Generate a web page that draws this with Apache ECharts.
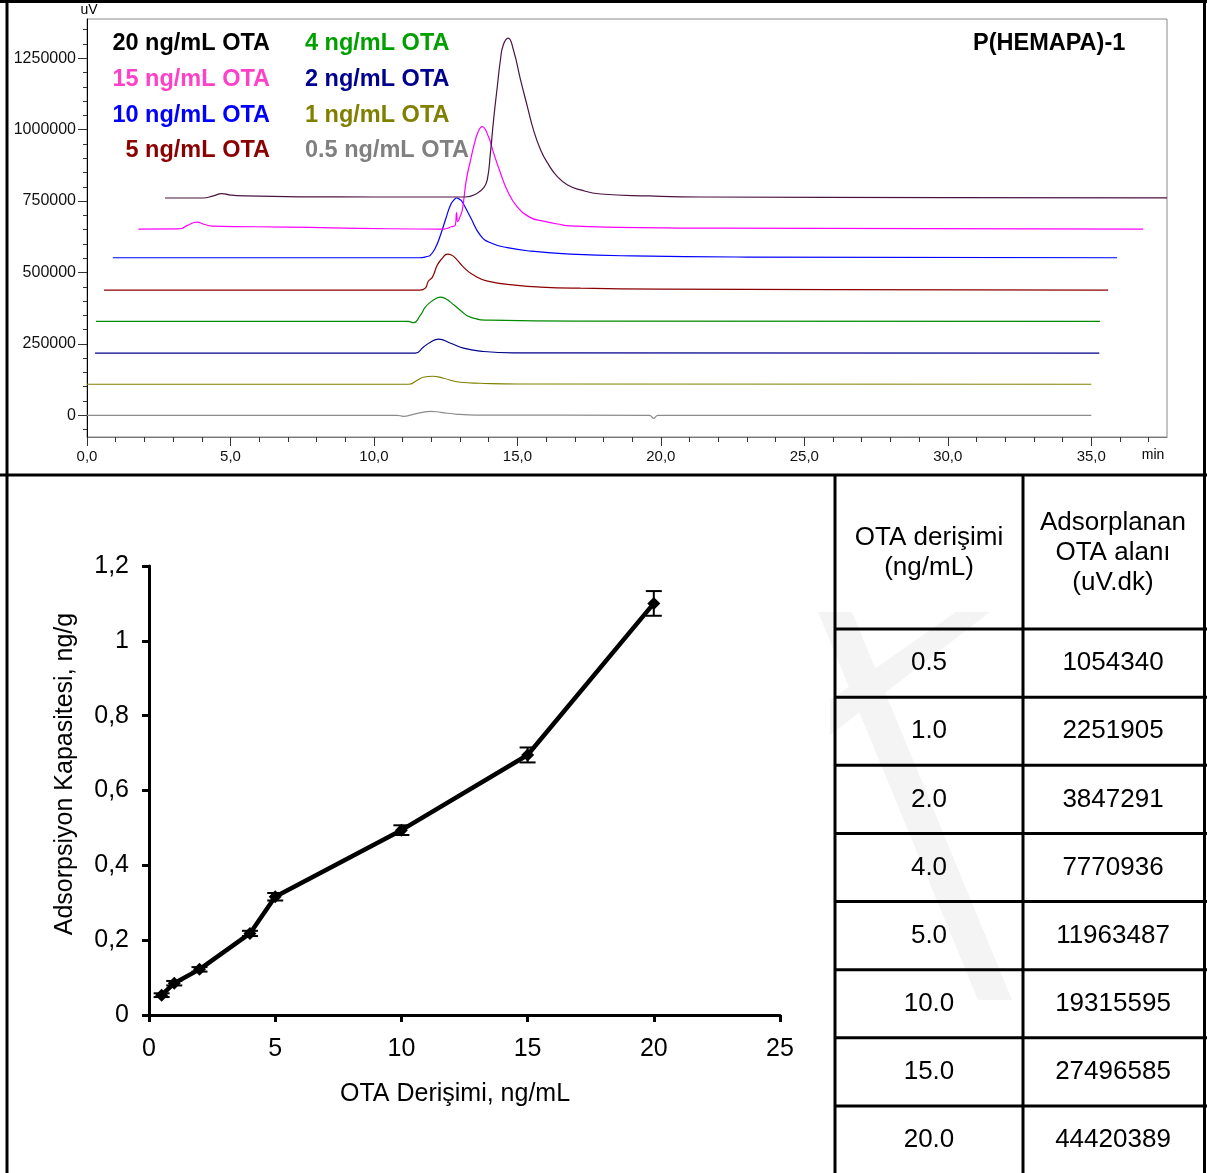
<!DOCTYPE html>
<html><head><meta charset="utf-8">
<script src="https://cdn.jsdelivr.net/npm/echarts@6/dist/echarts.min.js"></script>
<style>html,body{margin:0;padding:0;background:#fff}#c{width:1207px;height:1173px}</style>
</head><body><div id="c"></div><script>
// ---------- Chromatogram traces [time(min), signal(uV)] as displayed (stacked/shifted) ----------
const t20 = [[2.72,760800],[4.05,760800],[4.40,768000],[4.70,776000],[4.95,772000],[5.22,769000],[7.43,765000],[10.0,764300],[13.19,764300],[13.60,777300],[13.82,795900],[13.95,823900],[14.06,918600],[14.17,1034300],[14.30,1151000],[14.41,1244600],[14.51,1297200],[14.68,1320700],[14.86,1279700],[15.11,1174500],[15.35,1079800],[15.56,999200],[15.81,929100],[16.05,883500],[16.40,834400],[16.75,806400],[17.20,788900],[17.90,774800],[19.60,768000],[21.40,764300],[30.0,762000],[37.64,761000]];
const t15 = [[1.79,652100],[3.24,653000],[3.50,665000],[3.83,676000],[4.10,668000],[4.35,662600],[7.0,659000],[10.5,653000],[12.42,652100],[12.70,660000],[12.84,667000],[12.88,710000],[12.92,678000],[13.00,695000],[13.08,718700],[13.22,823900],[13.36,890000],[13.50,950000],[13.63,992000],[13.77,1010800],[13.99,975700],[14.17,918600],[14.41,848500],[14.64,788900],[14.99,730300],[15.46,692000],[15.90,680000],[16.40,669600],[16.85,663000],[18.5,658000],[22.0,655000],[36.81,652100]];
const t10 = [[0.90,551500],[11.60,551500],[11.85,556000],[11.97,561000],[12.14,585500],[12.32,631100],[12.49,683700],[12.67,736300],[12.80,755000],[12.88,760800],[13.00,755000],[13.08,746800],[13.36,694200],[13.71,630000],[14.06,604000],[14.65,587000],[15.46,575000],[16.85,564500],[19.0,558000],[23.0,554000],[35.90,551500]];
const t5 = [[0.59,438300],[11.60,438300],[11.79,445300],[11.90,470000],[12.04,483800],[12.21,525900],[12.39,550400],[12.56,564500],[12.70,561000],[12.84,550400],[13.12,518900],[13.47,490800],[13.96,469800],[15.0,455000],[15.8,449000],[17.2,445000],[20.0,442000],[26.0,440000],[35.59,438300]];
const t4 = [[0.31,329000],[11.20,329000],[11.37,324000],[11.62,350600],[11.79,378600],[11.97,396200],[12.15,408000],[12.32,413700],[12.50,408000],[12.67,396200],[13.01,368100],[13.36,343600],[14.06,333100],[17.2,329500],[35.31,329000]];
const t2 = [[0.28,217400],[11.44,217400],[11.72,238400],[11.97,255900],[12.25,266500],[12.67,252400],[13.12,234900],[13.71,224400],[14.86,218500],[35.28,217400]];
const t1 = [[0,108700],[11.20,108700],[11.51,122700],[11.72,133200],[12.04,136700],[12.42,129700],[13.01,115700],[13.71,112200],[15.0,109500],[35.0,108700]];
const t05 = [[0,0],[10.8,0],[11.03,-3500],[11.37,3500],[11.69,10500],[11.97,14000],[12.32,10500],[12.91,3500],[13.61,500],[19.6,0],[19.75,-10500],[19.9,0],[35.0,0]];

const chromNames = ['20 ng/mL OTA','15 ng/mL OTA','10 ng/mL OTA','5 ng/mL OTA','4 ng/mL OTA','2 ng/mL OTA','1 ng/mL OTA','0.5 ng/mL OTA'];
const chromX_major = [0,5,10,15,20,25,30,35];
const chromY_major = [0,250000,500000,750000,1000000,1250000];
const chromTitle = 'P(HEMAPA)-1';

// ---------- Calibration plot ----------
const concX = [0.5,1,2,4,5,10,15,20];
const capacity = [0.053,0.085,0.122,0.218,0.316,0.494,0.695,1.10];
const capErr = [0.005,0.006,0.006,0.007,0.010,0.013,0.020,0.033];
const xName = 'OTA Derişimi, ng/mL';
const yName = 'Adsorpsiyon Kapasitesi, ng/g';

// ---------- Table ----------
const tableHead1 = ['OTA derişimi','(ng/mL)'];
const tableHead2 = ['Adsorplanan','OTA alanı','(uV.dk)'];
const tableConc = ['0.5','1.0','2.0','4.0','5.0','10.0','15.0','20.0'];
const tableArea = ['1054340','2251905','3847291','7770936','11963487','19315595','27496585','44420389'];

// ---------- styles ----------
const FONT = '"Liberation Sans", Arial, sans-serif';
const lineColors = ['#4a1442','#ff00ff','#0000ff','#8b0000','#008a00','#00008b','#808000','#8c8c8c'];
const textColors = ['#000000','#ff40c8','#0000ff','#8b0000','#00a000','#000090','#808000','#808080'];
const traces = [t20,t15,t10,t5,t4,t2,t1,t05];

const X_MAX = 37.64, Y_MIN = -76000, Y_MAX = 1387400;
const minorX = []; for (let v = 0; v <= 37; v++) minorX.push(v);
const minorY = []; for (let v = -50000; v <= 1350000; v += 50000) minorY.push(v);

const chart = echarts.init(document.getElementById('c'), null, {renderer:'canvas'});

const series = traces.map((d, i) => ({
  type:'line', name: chromNames[i], xAxisIndex:0, yAxisIndex:0, data:d,
  showSymbol:false, smooth:0.5, clip:false,
  lineStyle:{color:lineColors[i], width:1.2}, z: 3 + (8 - i)
}));

series.push({
  type:'custom', name:'err', xAxisIndex:2, yAxisIndex:2,
  data: concX.map((x,i)=>[x, capacity[i]-capErr[i], capacity[i]+capErr[i]]),
  renderItem:(params, api)=>{
    const lo = api.coord([api.value(0), api.value(1)]);
    const hi = api.coord([api.value(0), api.value(2)]);
    const hw = 8;
    const st = {stroke:'#000', lineWidth:2};
    return {type:'group', children:[
      {type:'line', shape:{x1:lo[0],y1:lo[1],x2:hi[0],y2:hi[1]}, style:st},
      {type:'line', shape:{x1:lo[0]-hw,y1:lo[1],x2:lo[0]+hw,y2:lo[1]}, style:st},
      {type:'line', shape:{x1:hi[0]-hw,y1:hi[1],x2:hi[0]+hw,y2:hi[1]}, style:st}
    ]};
  }, z:5
});
series.push({
  type:'line', name:'capacity', xAxisIndex:2, yAxisIndex:2,
  data: concX.map((x,i)=>[x, capacity[i]]),
  symbol:'diamond', symbolSize:13, showSymbol:true,
  lineStyle:{color:'#000', width:4.5}, itemStyle:{color:'#000'}, z:6
});

const fmtComma1 = v => v.toFixed(1).replace('.', ',');
const fmtY2 = v => String(Math.round(v*10)/10).replace('.', ',');
const fmtPlain = v => String(Math.round(v));

const graphics = [];
const T = (text, x, y, opt) => graphics.push({type:'text', x, y, z:50,
  style:Object.assign({text, fontFamily:FONT, fontSize:25, fill:'#000', align:'center', verticalAlign:'middle'}, opt||{})});
const L = (x1,y1,x2,y2,w,c) => graphics.push({type:'line', z:60, shape:{x1,y1,x2,y2}, style:{stroke:c||'#000', lineWidth:w||3}});

// watermark (faint)
graphics.push({type:'polygon', z:1, shape:{points:[[818,612],[852,612],[1012,1000],[978,1000]]}, style:{fill:'#f4f4f4'}});
graphics.push({type:'polygon', z:1, shape:{points:[[830,700],[830,735],[990,612],[956,612]]}, style:{fill:'#f4f4f4'}});

// legend texts for chromatograms
const rowsY = [44, 80, 116, 151];
chromNames.forEach((n,i)=>{
  const col = i < 4 ? 0 : 1;
  T(n, col===0 ? 270 : 305, rowsY[i%4], {fontWeight:'bold', fontSize:23.5, fill:textColors[i], align: col===0?'right':'left'});
});
T(chromTitle, 973, 44, {fontWeight:'bold', fontSize:23.5, align:'left'});
T('uV', 89, 10, {fontSize:14, align:'center'});
T('min', 1153, 455, {fontSize:14, align:'center'});

// calibration axis names
T(xName, 455, 1094, {fontSize:25});
graphics.push({type:'text', x:65, y:774, rotation:Math.PI/2, z:50,
  style:{text:yName, fontFamily:FONT, fontSize:25, fill:'#000', align:'center', verticalAlign:'middle'}});

// frames
L(7, 0, 7, 1173, 3);
L(0, 1.5, 1207, 1.5, 3);
L(1204.5, 0, 1204.5, 1173, 3);
L(0, 475, 1207, 475, 3);
L(835, 475, 835, 1173, 3);
L(1023, 475, 1023, 1173, 3);
const r0 = 629, rh = (1106 - 629) / 7;
for (let k = 0; k < 8; k++) L(835, r0 + rh*k, 1207, r0 + rh*k, 3);

// table text
T(tableHead1[0], 929, 538, {fontSize:26});
T(tableHead1[1], 929, 568, {fontSize:26});
T(tableHead2[0], 1113, 523, {fontSize:26});
T(tableHead2[1], 1113, 553, {fontSize:26});
T(tableHead2[2], 1113, 583, {fontSize:26});
tableConc.forEach((c,k)=>{
  const yc = r0 + rh*k + rh/2;
  T(c, 929, yc, {fontSize:26});
  T(tableArea[k], 1113, yc, {fontSize:26});
});

const option = {
  animation:false,
  backgroundColor:'#fff',
  textStyle:{fontFamily:FONT},
  grid:[
    {left:87, top:19, width:1167-87, height:437-19, show:true, borderColor:'#8a8a8a', borderWidth:1, backgroundColor:'transparent'},
    {left:149, top:566, width:780-149, height:1015-566}
  ],
  xAxis:[
    {type:'value', gridIndex:0, min:0, max:X_MAX, position:'bottom',
     axisLine:{onZero:false, lineStyle:{color:'#777', width:1}},
     axisTick:{customValues:chromX_major, length:9, lineStyle:{color:'#333'}},
     axisLabel:{customValues:chromX_major, formatter:fmtComma1, fontSize:15, color:'#111', margin:12, fontFamily:FONT},
     splitLine:{show:false}},
    {type:'value', gridIndex:0, min:0, max:X_MAX, position:'bottom',
     axisLine:{show:false, onZero:false}, axisTick:{show:true, customValues:minorX, length:5, lineStyle:{color:'#333'}},
     axisLabel:{show:true, customValues:minorX, formatter:()=>''}, splitLine:{show:false}},
    {type:'value', gridIndex:1, min:0, max:25, interval:5, position:'bottom',
     axisLine:{onZero:false, lineStyle:{color:'#000', width:3}},
     axisTick:{length:7, lineStyle:{color:'#000', width:3}},
     axisLabel:{fontSize:25, color:'#000', margin:22, fontFamily:FONT},
     splitLine:{show:false}}
  ],
  yAxis:[
    {type:'value', gridIndex:0, min:Y_MIN, max:Y_MAX, position:'left',
     axisLine:{show:true, onZero:false, lineStyle:{color:'#000', width:1}},
     axisTick:{show:true, customValues:chromY_major, length:9, lineStyle:{color:'#333'}},
     axisLabel:{customValues:chromY_major, formatter:fmtPlain, fontSize:16, color:'#111', margin:11, fontFamily:FONT},
     splitLine:{show:false}},
    {type:'value', gridIndex:0, min:Y_MIN, max:Y_MAX, position:'left',
     axisLine:{show:false, onZero:false}, axisTick:{show:true, customValues:minorY, length:4, lineStyle:{color:'#333'}},
     axisLabel:{show:true, customValues:minorY, formatter:()=>''}, splitLine:{show:false}},
    {type:'value', gridIndex:1, min:0, max:1.2, interval:0.2, position:'left',
     axisLine:{show:true, onZero:false, lineStyle:{color:'#000', width:3}},
     axisTick:{show:true, length:7, lineStyle:{color:'#000', width:3}},
     axisLabel:{fontSize:25, color:'#000', margin:20, formatter:fmtY2, fontFamily:FONT},
     splitLine:{show:false}}
  ],
  series,
  graphic: graphics
};
chart.setOption(option);
</script></body></html>
